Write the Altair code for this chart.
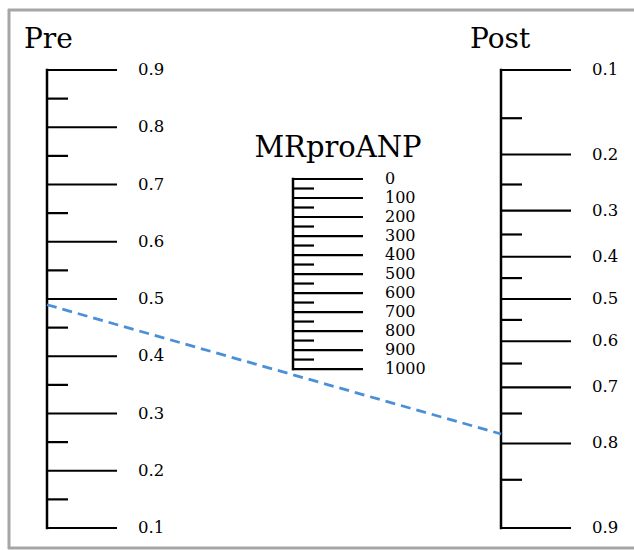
import math
import pandas as pd
import altair as alt

# ---- data ----
pre_major = [0.1, 0.2, 0.3, 0.4, 0.5, 0.6, 0.7, 0.8, 0.9]
pre_minor = [0.15, 0.25, 0.35, 0.45, 0.55, 0.65, 0.75, 0.85]
post_major = [0.1, 0.2, 0.3, 0.4, 0.5, 0.6, 0.7, 0.8, 0.9]
post_minor = [0.15, 0.25, 0.35, 0.45, 0.55, 0.65, 0.75, 0.85]
mr_major = [0, 100, 200, 300, 400, 500, 600, 700, 800, 900, 1000]
mr_minor = [50, 150, 250, 350, 450, 550, 650, 750, 850, 950]
line_pre = 0.49
line_post = 0.785
titles = ["Pre", "Post", "MRproANP"]

# ---- layout ----
W, H = 634, 550
Y_TOP, Y_BOT = 70, 528
PRE_X, POST_X, MR_X = 47, 501, 293
MR_TOP_F, MR_BOT_F = 0.762, 0.347
MAJOR_LEN, MINOR_LEN = 70, 21
MR_MAJOR_LEN, MR_MINOR_LEN = 70, 21
SERIF = "DejaVu Serif"


def logit(p):
    return math.log(p / (1 - p))


def pre_frac(v):
    return (v - 0.1) / 0.8


def post_frac(v):
    return 1 - (logit(v) - logit(0.1)) / (logit(0.9) - logit(0.1))


def mr_frac(v):
    return MR_TOP_F - v / 1000 * (MR_TOP_F - MR_BOT_F)


yscale = alt.Scale(domain=[0, 1], range=[Y_BOT, Y_TOP])
xscale = alt.Scale(domain=[0, 1], range=[PRE_X, POST_X])


def df(vals, f, fmt):
    return pd.DataFrame({"v": vals, "frac": [f(v) for v in vals], "label": [fmt(v) for v in vals]})


pre_maj = df(pre_major, pre_frac, lambda v: f"{v:.1f}")
pre_min = df(pre_minor, pre_frac, lambda v: f"{v:.2f}")
post_maj = df(post_major, post_frac, lambda v: f"{v:.1f}")
post_min = df(post_minor, post_frac, lambda v: f"{v:.2f}")
mr_maj = df(mr_major, mr_frac, lambda v: str(v))
mr_min = df(mr_minor, mr_frac, lambda v: str(v))

Y = alt.Y("frac:Q", scale=yscale, axis=None)


def axis_layers(maj, mnr, x0, maj_len, min_len, label_x, fs):
    spine = alt.Chart(maj).mark_rule(color="black", strokeWidth=2.5, strokeCap="square").encode(
        x=alt.value(x0),
        y=alt.Y("min(frac):Q", scale=yscale, axis=None),
        y2=alt.Y2("max(frac):Q"),
    )
    majt = alt.Chart(maj).mark_rule(color="black", strokeWidth=2.2).encode(
        x=alt.value(x0), x2=alt.value(x0 + maj_len), y=Y
    )
    mint = alt.Chart(mnr).mark_rule(color="black", strokeWidth=2.2).encode(
        x=alt.value(x0), x2=alt.value(x0 + min_len), y=Y
    )
    labs = alt.Chart(maj).mark_text(
        align="left", baseline="middle", font=SERIF, fontSize=fs, color="#000000"
    ).encode(x=alt.value(label_x), y=Y, text="label:N")
    return [spine, majt, mint, labs]


one = alt.Data(values=[{"a": 1}])
FRAME = dict(color="#a6a6a6", strokeWidth=3)
frame_top = alt.Chart(one).mark_rule(**FRAME).encode(
    x=alt.value(8), x2=alt.value(W), y=alt.value(10)
)
frame_left = alt.Chart(one).mark_rule(**FRAME).encode(
    x=alt.value(9), y=alt.value(9), y2=alt.value(549)
)
frame_bottom = alt.Chart(one).mark_rule(**FRAME).encode(
    x=alt.value(8), x2=alt.value(W), y=alt.value(548)
)

title_df = pd.DataFrame({"t": titles})
t_pre = alt.Chart(title_df).transform_filter(alt.datum.t == "Pre").mark_text(
    align="left", baseline="alphabetic", font=SERIF, fontSize=28, color="black"
).encode(x=alt.value(24), y=alt.value(48), text="t:N")
t_post = alt.Chart(title_df).transform_filter(alt.datum.t == "Post").mark_text(
    align="left", baseline="alphabetic", font=SERIF, fontSize=28, color="black"
).encode(x=alt.value(470), y=alt.value(48), text="t:N")
t_mr = alt.Chart(title_df).transform_filter(alt.datum.t == "MRproANP").mark_text(
    align="center", baseline="alphabetic", font=SERIF, fontSize=29, color="black"
).encode(x=alt.value(338), y=alt.value(157), text="t:N")

line_df = pd.DataFrame({"pos": [0, 1], "frac": [pre_frac(line_pre), post_frac(line_post)]})
dashed = alt.Chart(line_df).mark_line(color="#4a90d9", strokeWidth=2.8, strokeDash=[10, 6]).encode(
    x=alt.X("pos:Q", scale=xscale, axis=None), y=Y
)

layers = [frame_top, frame_left, frame_bottom]
layers += axis_layers(pre_maj, pre_min, PRE_X, MAJOR_LEN, MINOR_LEN, 138, 16.5)
layers += axis_layers(post_maj, post_min, POST_X, MAJOR_LEN, MINOR_LEN, 592, 16.5)
layers += axis_layers(mr_maj, mr_min, MR_X, MR_MAJOR_LEN, MR_MINOR_LEN, 385, 16)
layers += [dashed, t_pre, t_post, t_mr]

chart = alt.layer(*layers).properties(
    width=W, height=H, padding=0, autosize=alt.AutoSizeParams(type="none")
).configure_view(stroke=None)

chart.save("out.html", embed_options={"renderer": "svg", "actions": False})
